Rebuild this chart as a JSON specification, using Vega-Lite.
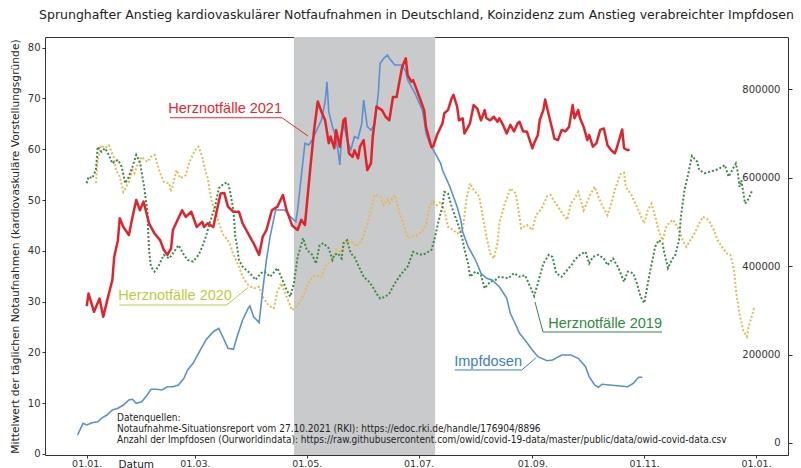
{
  "$schema": "https://vega.github.io/schema/vega-lite/v6.json",
  "width": 743,
  "height": 418,
  "autosize": {"type": "none"},
  "padding": {"left": 45, "top": 37, "right": 13, "bottom": 13},
  "background": "white",
  "config": {"view": {"stroke": "#333333", "strokeWidth": 1}, "font": "DejaVu Sans"},
  "title": {"text": "Sprunghafter Anstieg kardiovaskulärer Notfaufnahmen in Deutschland, Koinzidenz zum Anstieg verabreichter Impfdosen", "font": "DejaVu Sans", "fontSize": 12.5, "fontWeight": "normal", "color": "#222222", "anchor": "middle", "offset": 16},
  "datasets": {
    "band": [{"start": "2021-04-24", "end": "2021-07-10"}],
    "red": [
      {"date":"2021-01-01","v":29.1},{"date":"2021-01-02","v":31.6},{"date":"2021-01-05","v":28.0},{"date":"2021-01-08","v":30.6},{"date":"2021-01-10","v":27.0},{"date":"2021-01-12","v":30.0},{"date":"2021-01-15","v":34.3},{"date":"2021-01-16","v":38.8},{"date":"2021-01-18","v":42.1},{"date":"2021-01-19","v":46.4},{"date":"2021-01-21","v":44.7},{"date":"2021-01-24","v":43.1},{"date":"2021-01-26","v":46.7},{"date":"2021-01-28","v":50.0},{"date":"2021-01-30","v":48.0},{"date":"2021-02-01","v":49.7},{"date":"2021-02-04","v":45.4},{"date":"2021-02-05","v":44.7},{"date":"2021-02-07","v":43.4},{"date":"2021-02-10","v":42.1},{"date":"2021-02-12","v":40.2},{"date":"2021-02-14","v":39.2},{"date":"2021-02-16","v":40.5},{"date":"2021-02-17","v":44.1},{"date":"2021-02-22","v":48.0},{"date":"2021-02-24","v":46.7},{"date":"2021-02-27","v":47.7},{"date":"2021-03-02","v":44.7},{"date":"2021-03-05","v":45.7},{"date":"2021-03-06","v":44.7},{"date":"2021-03-08","v":45.4},{"date":"2021-03-11","v":44.7},{"date":"2021-03-13","v":48.0},{"date":"2021-03-15","v":51.3},{"date":"2021-03-17","v":51.4},{"date":"2021-03-19","v":48.7},{"date":"2021-03-22","v":47.7},{"date":"2021-03-25","v":47.7},{"date":"2021-03-27","v":45.4},{"date":"2021-03-29","v":44.1},{"date":"2021-04-01","v":42.1},{"date":"2021-04-02","v":41.5},{"date":"2021-04-05","v":39.2},{"date":"2021-04-07","v":42.8},{"date":"2021-04-09","v":44.1},{"date":"2021-04-12","v":48.0},{"date":"2021-04-15","v":48.7},{"date":"2021-04-18","v":51.0},{"date":"2021-04-20","v":48.0},{"date":"2021-04-23","v":45.0},{"date":"2021-04-26","v":44.1},{"date":"2021-04-28","v":46.1},{"date":"2021-04-30","v":45.1},{"date":"2021-05-03","v":56.6},{"date":"2021-05-05","v":63.8},{"date":"2021-05-07","v":69.4},{"date":"2021-05-09","v":67.4},{"date":"2021-05-11","v":65.7},{"date":"2021-05-13","v":61.2},{"date":"2021-05-14","v":62.5},{"date":"2021-05-16","v":60.2},{"date":"2021-05-17","v":63.8},{"date":"2021-05-19","v":60.5},{"date":"2021-05-21","v":65.7},{"date":"2021-05-22","v":66.1},{"date":"2021-05-24","v":59.2},{"date":"2021-05-26","v":58.5},{"date":"2021-05-27","v":59.8},{"date":"2021-05-29","v":58.2},{"date":"2021-05-30","v":60.5},{"date":"2021-06-01","v":61.8},{"date":"2021-06-03","v":55.9},{"date":"2021-06-05","v":57.2},{"date":"2021-06-06","v":62.5},{"date":"2021-06-08","v":68.4},{"date":"2021-06-11","v":67.7},{"date":"2021-06-13","v":66.4},{"date":"2021-06-15","v":65.7},{"date":"2021-06-17","v":70.3},{"date":"2021-06-19","v":70.3},{"date":"2021-06-20","v":72.3},{"date":"2021-06-22","v":76.2},{"date":"2021-06-24","v":77.9},{"date":"2021-06-25","v":74.6},{"date":"2021-06-27","v":73.3},{"date":"2021-06-28","v":73.6},{"date":"2021-06-30","v":71.7},{"date":"2021-07-02","v":69.7},{"date":"2021-07-04","v":67.7},{"date":"2021-07-05","v":64.4},{"date":"2021-07-08","v":60.4},{"date":"2021-07-09","v":60.6},{"date":"2021-07-11","v":62.8},{"date":"2021-07-14","v":65.1},{"date":"2021-07-15","v":67.1},{"date":"2021-07-17","v":67.7},{"date":"2021-07-19","v":70.0},{"date":"2021-07-20","v":70.7},{"date":"2021-07-22","v":68.4},{"date":"2021-07-23","v":65.7},{"date":"2021-07-25","v":66.1},{"date":"2021-07-26","v":63.1},{"date":"2021-07-29","v":65.1},{"date":"2021-07-31","v":68.7},{"date":"2021-08-02","v":68.0},{"date":"2021-08-04","v":65.7},{"date":"2021-08-06","v":67.7},{"date":"2021-08-07","v":66.1},{"date":"2021-08-09","v":65.7},{"date":"2021-08-11","v":66.4},{"date":"2021-08-13","v":65.4},{"date":"2021-08-14","v":66.1},{"date":"2021-08-16","v":64.8},{"date":"2021-08-18","v":63.1},{"date":"2021-08-20","v":64.8},{"date":"2021-08-22","v":63.5},{"date":"2021-08-24","v":65.1},{"date":"2021-08-25","v":65.4},{"date":"2021-08-27","v":63.5},{"date":"2021-08-29","v":63.5},{"date":"2021-09-01","v":60.2},{"date":"2021-09-02","v":61.2},{"date":"2021-09-04","v":62.8},{"date":"2021-09-05","v":65.7},{"date":"2021-09-07","v":67.7},{"date":"2021-09-08","v":69.8},{"date":"2021-09-10","v":66.7},{"date":"2021-09-12","v":63.8},{"date":"2021-09-13","v":62.1},{"date":"2021-09-15","v":61.8},{"date":"2021-09-17","v":63.8},{"date":"2021-09-19","v":63.5},{"date":"2021-09-21","v":64.4},{"date":"2021-09-23","v":68.7},{"date":"2021-09-24","v":66.1},{"date":"2021-09-26","v":67.7},{"date":"2021-09-27","v":66.1},{"date":"2021-09-29","v":64.4},{"date":"2021-10-01","v":61.8},{"date":"2021-10-02","v":62.8},{"date":"2021-10-04","v":60.5},{"date":"2021-10-06","v":61.2},{"date":"2021-10-08","v":63.8},{"date":"2021-10-10","v":64.1},{"date":"2021-10-12","v":60.8},{"date":"2021-10-14","v":59.8},{"date":"2021-10-16","v":59.2},{"date":"2021-10-17","v":60.2},{"date":"2021-10-20","v":63.9},{"date":"2021-10-21","v":60.2},{"date":"2021-10-23","v":59.8},{"date":"2021-10-24","v":60.0}
    ],
    "blue": [
      {"date":"2020-12-27","doses":18000},{"date":"2020-12-30","doses":44500},{"date":"2021-01-01","doses":40700},{"date":"2021-01-04","doses":45900},{"date":"2021-01-07","doses":48100},{"date":"2021-01-09","doses":55800},{"date":"2021-01-12","doses":63300},{"date":"2021-01-15","doses":74600},{"date":"2021-01-18","doses":78400},{"date":"2021-01-21","doses":85900},{"date":"2021-01-24","doses":97200},{"date":"2021-01-26","doses":98800},{"date":"2021-01-28","doses":89700},{"date":"2021-01-31","doses":93300},{"date":"2021-02-03","doses":108500},{"date":"2021-02-05","doses":121400},{"date":"2021-02-08","doses":121400},{"date":"2021-02-11","doses":119800},{"date":"2021-02-14","doses":127200},{"date":"2021-02-17","doses":127200},{"date":"2021-02-20","doses":131100},{"date":"2021-02-23","doses":146200},{"date":"2021-02-25","doses":165000},{"date":"2021-02-28","doses":180100},{"date":"2021-03-04","doses":210200},{"date":"2021-03-07","doses":232800},{"date":"2021-03-11","doses":251500},{"date":"2021-03-14","doses":259200},{"date":"2021-03-17","doses":232800},{"date":"2021-03-19","doses":214000},{"date":"2021-03-22","doses":211800},{"date":"2021-03-24","doses":240200},{"date":"2021-03-27","doses":278000},{"date":"2021-03-30","doses":304400},{"date":"2021-03-31","doses":309600},{"date":"2021-04-02","doses":285400},{"date":"2021-04-05","doses":272000},{"date":"2021-04-07","doses":345800},{"date":"2021-04-09","doses":413600},{"date":"2021-04-11","doses":466200},{"date":"2021-04-14","doses":526600},{"date":"2021-04-16","doses":526600},{"date":"2021-04-19","doses":526600},{"date":"2021-04-22","doses":511400},{"date":"2021-04-25","doses":500100},{"date":"2021-04-26","doses":526600},{"date":"2021-04-28","doses":601800},{"date":"2021-04-29","doses":639600},{"date":"2021-04-30","doses":677300},{"date":"2021-05-02","doses":673500},{"date":"2021-05-04","doses":684800},{"date":"2021-05-06","doses":703500},{"date":"2021-05-09","doses":730000},{"date":"2021-05-11","doses":771300},{"date":"2021-05-12","doses":816500},{"date":"2021-05-13","doses":748700},{"date":"2021-05-15","doses":714800},{"date":"2021-05-16","doses":703500},{"date":"2021-05-18","doses":662200},{"date":"2021-05-19","doses":628300},{"date":"2021-05-20","doses":692200},{"date":"2021-05-21","doses":722500},{"date":"2021-05-23","doses":684800},{"date":"2021-05-25","doses":662200},{"date":"2021-05-26","doses":677300},{"date":"2021-05-27","doses":692200},{"date":"2021-05-29","doses":688600},{"date":"2021-05-31","doses":722500},{"date":"2021-06-01","doses":775200},{"date":"2021-06-03","doses":714800},{"date":"2021-06-05","doses":707400},{"date":"2021-06-07","doses":718700},{"date":"2021-06-09","doses":790300},{"date":"2021-06-10","doses":858100},{"date":"2021-06-12","doses":869400},{"date":"2021-06-14","doses":876900},{"date":"2021-06-15","doses":869400},{"date":"2021-06-18","doses":854300},{"date":"2021-06-21","doses":854300},{"date":"2021-06-22","doses":854300},{"date":"2021-06-24","doses":839100},{"date":"2021-06-25","doses":820400},{"date":"2021-06-27","doses":805200},{"date":"2021-06-29","doses":790300},{"date":"2021-07-01","doses":771300},{"date":"2021-07-03","doses":752600},{"date":"2021-07-04","doses":730000},{"date":"2021-07-05","doses":699900},{"date":"2021-07-07","doses":677300},{"date":"2021-07-09","doses":662200},{"date":"2021-07-11","doses":647000},{"date":"2021-07-13","doses":632100},{"date":"2021-07-14","doses":617000},{"date":"2021-07-16","doses":598200},{"date":"2021-07-18","doses":579200},{"date":"2021-07-20","doses":556600},{"date":"2021-07-22","doses":534000},{"date":"2021-07-24","doses":504000},{"date":"2021-07-25","doses":477500},{"date":"2021-07-28","doses":443600},{"date":"2021-08-01","doses":413600},{"date":"2021-08-04","doses":383500},{"date":"2021-08-07","doses":372200},{"date":"2021-08-10","doses":368400},{"date":"2021-08-14","doses":353200},{"date":"2021-08-18","doses":327700},{"date":"2021-08-20","doses":293100},{"date":"2021-08-23","doses":266700},{"date":"2021-08-25","doses":247900},{"date":"2021-08-28","doses":232800},{"date":"2021-09-01","doses":210200},{"date":"2021-09-04","doses":195000},{"date":"2021-09-09","doses":186000},{"date":"2021-09-12","doses":187600},{"date":"2021-09-17","doses":198900},{"date":"2021-09-22","doses":198900},{"date":"2021-09-26","doses":191400},{"date":"2021-09-30","doses":172400},{"date":"2021-10-02","doses":149800},{"date":"2021-10-05","doses":131100},{"date":"2021-10-07","doses":125900},{"date":"2021-10-09","doses":132700},{"date":"2021-10-13","doses":131100},{"date":"2021-10-19","doses":128800},{"date":"2021-10-23","doses":127200},{"date":"2021-10-26","doses":134900},{"date":"2021-10-29","doses":148500},{"date":"2021-10-31","doses":148500}
    ],
    "green": [
      {"date":"2021-01-01","v":53.3},{"date":"2021-01-02","v":54.6},{"date":"2021-01-04","v":54.3},{"date":"2021-01-06","v":55.9},{"date":"2021-01-07","v":60.5},{"date":"2021-01-09","v":59.5},{"date":"2021-01-11","v":60.2},{"date":"2021-01-13","v":58.9},{"date":"2021-01-15","v":57.2},{"date":"2021-01-16","v":57.5},{"date":"2021-01-18","v":57.9},{"date":"2021-01-20","v":56.6},{"date":"2021-01-22","v":53.3},{"date":"2021-01-24","v":54.6},{"date":"2021-01-26","v":56.6},{"date":"2021-01-28","v":58.9},{"date":"2021-01-30","v":57.5},{"date":"2021-02-01","v":53.3},{"date":"2021-02-03","v":48.0},{"date":"2021-02-04","v":40.2},{"date":"2021-02-05","v":36.9},{"date":"2021-02-07","v":35.9},{"date":"2021-02-09","v":36.9},{"date":"2021-02-12","v":39.2},{"date":"2021-02-15","v":38.5},{"date":"2021-02-17","v":39.5},{"date":"2021-02-20","v":41.1},{"date":"2021-02-23","v":39.2},{"date":"2021-02-25","v":38.2},{"date":"2021-02-28","v":37.9},{"date":"2021-03-03","v":39.2},{"date":"2021-03-05","v":40.8},{"date":"2021-03-07","v":42.8},{"date":"2021-03-09","v":45.4},{"date":"2021-03-12","v":48.7},{"date":"2021-03-14","v":52.3},{"date":"2021-03-17","v":53.3},{"date":"2021-03-19","v":53.4},{"date":"2021-03-20","v":52.0},{"date":"2021-03-22","v":48.0},{"date":"2021-03-23","v":42.8},{"date":"2021-03-24","v":40.8},{"date":"2021-03-25","v":38.2},{"date":"2021-03-27","v":36.9},{"date":"2021-03-29","v":36.2},{"date":"2021-03-31","v":35.6},{"date":"2021-04-03","v":34.3},{"date":"2021-04-06","v":35.6},{"date":"2021-04-08","v":35.9},{"date":"2021-04-11","v":34.9},{"date":"2021-04-15","v":36.6},{"date":"2021-04-17","v":34.9},{"date":"2021-04-20","v":32.3},{"date":"2021-04-22","v":31.0},{"date":"2021-04-24","v":33.6},{"date":"2021-04-26","v":38.8},{"date":"2021-04-29","v":42.5},{"date":"2021-05-01","v":40.2},{"date":"2021-05-04","v":39.2},{"date":"2021-05-06","v":37.5},{"date":"2021-05-08","v":41.1},{"date":"2021-05-10","v":41.5},{"date":"2021-05-13","v":40.5},{"date":"2021-05-15","v":38.2},{"date":"2021-05-16","v":39.2},{"date":"2021-05-18","v":39.5},{"date":"2021-05-20","v":38.5},{"date":"2021-05-21","v":41.5},{"date":"2021-05-23","v":42.1},{"date":"2021-05-25","v":39.5},{"date":"2021-05-27","v":38.8},{"date":"2021-05-29","v":37.2},{"date":"2021-06-01","v":34.9},{"date":"2021-06-04","v":33.9},{"date":"2021-06-06","v":32.9},{"date":"2021-06-08","v":31.6},{"date":"2021-06-10","v":30.6},{"date":"2021-06-13","v":31.0},{"date":"2021-06-15","v":31.6},{"date":"2021-06-18","v":33.6},{"date":"2021-06-21","v":35.2},{"date":"2021-06-25","v":36.9},{"date":"2021-06-28","v":39.8},{"date":"2021-06-30","v":39.5},{"date":"2021-07-03","v":39.2},{"date":"2021-07-05","v":39.5},{"date":"2021-07-08","v":40.2},{"date":"2021-07-10","v":42.8},{"date":"2021-07-12","v":46.1},{"date":"2021-07-14","v":48.7},{"date":"2021-07-15","v":51.6},{"date":"2021-07-17","v":51.3},{"date":"2021-07-19","v":48.7},{"date":"2021-07-21","v":46.7},{"date":"2021-07-23","v":44.7},{"date":"2021-07-25","v":42.1},{"date":"2021-07-26","v":40.2},{"date":"2021-07-28","v":37.5},{"date":"2021-07-29","v":34.9},{"date":"2021-08-01","v":35.9},{"date":"2021-08-04","v":35.2},{"date":"2021-08-06","v":32.6},{"date":"2021-08-09","v":33.9},{"date":"2021-08-12","v":34.3},{"date":"2021-08-14","v":34.9},{"date":"2021-08-19","v":34.6},{"date":"2021-08-22","v":35.6},{"date":"2021-08-25","v":34.9},{"date":"2021-08-28","v":35.2},{"date":"2021-08-30","v":33.6},{"date":"2021-09-02","v":31.1},{"date":"2021-09-04","v":33.6},{"date":"2021-09-07","v":37.5},{"date":"2021-09-10","v":39.2},{"date":"2021-09-12","v":38.8},{"date":"2021-09-14","v":35.6},{"date":"2021-09-17","v":34.9},{"date":"2021-09-20","v":36.2},{"date":"2021-09-23","v":37.5},{"date":"2021-09-24","v":38.2},{"date":"2021-09-27","v":39.2},{"date":"2021-09-30","v":39.8},{"date":"2021-10-02","v":37.5},{"date":"2021-10-04","v":38.8},{"date":"2021-10-07","v":39.2},{"date":"2021-10-10","v":38.5},{"date":"2021-10-12","v":37.2},{"date":"2021-10-15","v":38.5},{"date":"2021-10-18","v":36.6},{"date":"2021-10-21","v":33.9},{"date":"2021-10-23","v":35.9},{"date":"2021-10-26","v":35.6},{"date":"2021-10-28","v":33.6},{"date":"2021-10-30","v":31.0},{"date":"2021-11-01","v":29.7},{"date":"2021-11-02","v":31.6},{"date":"2021-11-04","v":35.6},{"date":"2021-11-07","v":40.8},{"date":"2021-11-09","v":42.1},{"date":"2021-11-11","v":41.5},{"date":"2021-11-12","v":39.5},{"date":"2021-11-14","v":36.6},{"date":"2021-11-16","v":38.2},{"date":"2021-11-18","v":39.2},{"date":"2021-11-20","v":42.1},{"date":"2021-11-21","v":46.7},{"date":"2021-11-23","v":52.0},{"date":"2021-11-25","v":55.1},{"date":"2021-11-27","v":58.7},{"date":"2021-11-30","v":57.5},{"date":"2021-12-01","v":55.9},{"date":"2021-12-04","v":55.3},{"date":"2021-12-07","v":55.6},{"date":"2021-12-10","v":55.9},{"date":"2021-12-12","v":56.2},{"date":"2021-12-15","v":56.9},{"date":"2021-12-17","v":54.6},{"date":"2021-12-19","v":55.9},{"date":"2021-12-21","v":57.2},{"date":"2021-12-22","v":55.6},{"date":"2021-12-23","v":52.6},{"date":"2021-12-24","v":53.9},{"date":"2021-12-26","v":49.3},{"date":"2021-12-28","v":50.3},{"date":"2021-12-30","v":52.0}
    ],
    "yellow": [
      {"date":"2021-01-06","v":53.3},{"date":"2021-01-07","v":57.9},{"date":"2021-01-09","v":60.8},{"date":"2021-01-11","v":60.2},{"date":"2021-01-13","v":60.8},{"date":"2021-01-16","v":58.2},{"date":"2021-01-17","v":55.9},{"date":"2021-01-19","v":54.6},{"date":"2021-01-21","v":51.6},{"date":"2021-01-24","v":53.6},{"date":"2021-01-26","v":55.9},{"date":"2021-01-27","v":55.3},{"date":"2021-01-29","v":57.2},{"date":"2021-01-31","v":58.5},{"date":"2021-02-03","v":57.5},{"date":"2021-02-05","v":58.5},{"date":"2021-02-07","v":58.9},{"date":"2021-02-10","v":55.3},{"date":"2021-02-12","v":53.6},{"date":"2021-02-15","v":53.3},{"date":"2021-02-16","v":51.6},{"date":"2021-02-19","v":55.9},{"date":"2021-02-21","v":54.3},{"date":"2021-02-24","v":54.9},{"date":"2021-02-26","v":57.5},{"date":"2021-03-01","v":59.8},{"date":"2021-03-03","v":60.5},{"date":"2021-03-05","v":58.5},{"date":"2021-03-07","v":55.3},{"date":"2021-03-08","v":54.3},{"date":"2021-03-10","v":50.0},{"date":"2021-03-13","v":46.7},{"date":"2021-03-16","v":43.4},{"date":"2021-03-20","v":41.5},{"date":"2021-03-22","v":39.2},{"date":"2021-03-25","v":36.9},{"date":"2021-03-27","v":34.9},{"date":"2021-03-30","v":33.3},{"date":"2021-04-02","v":32.6},{"date":"2021-04-05","v":32.9},{"date":"2021-04-07","v":31.0},{"date":"2021-04-10","v":29.3},{"date":"2021-04-13","v":28.7},{"date":"2021-04-15","v":32.0},{"date":"2021-04-17","v":33.6},{"date":"2021-04-20","v":31.0},{"date":"2021-04-23","v":28.3},{"date":"2021-04-26","v":29.3},{"date":"2021-04-28","v":30.3},{"date":"2021-05-01","v":32.9},{"date":"2021-05-04","v":34.9},{"date":"2021-05-06","v":35.2},{"date":"2021-05-09","v":34.9},{"date":"2021-05-12","v":37.5},{"date":"2021-05-15","v":38.2},{"date":"2021-05-17","v":40.2},{"date":"2021-05-20","v":39.8},{"date":"2021-05-23","v":42.1},{"date":"2021-05-26","v":41.7},{"date":"2021-05-28","v":40.8},{"date":"2021-05-31","v":42.1},{"date":"2021-06-02","v":44.1},{"date":"2021-06-05","v":48.0},{"date":"2021-06-07","v":51.0},{"date":"2021-06-10","v":50.7},{"date":"2021-06-12","v":49.0},{"date":"2021-06-14","v":50.0},{"date":"2021-06-15","v":49.3},{"date":"2021-06-18","v":51.0},{"date":"2021-06-19","v":49.7},{"date":"2021-06-21","v":47.0},{"date":"2021-06-23","v":45.1},{"date":"2021-06-25","v":42.5},{"date":"2021-06-27","v":42.8},{"date":"2021-06-30","v":43.1},{"date":"2021-07-03","v":43.8},{"date":"2021-07-05","v":45.1},{"date":"2021-07-07","v":48.7},{"date":"2021-07-09","v":49.7},{"date":"2021-07-11","v":49.0},{"date":"2021-07-13","v":49.7},{"date":"2021-07-15","v":48.0},{"date":"2021-07-17","v":44.7},{"date":"2021-07-20","v":44.1},{"date":"2021-07-22","v":43.4},{"date":"2021-07-25","v":44.1},{"date":"2021-07-27","v":50.0},{"date":"2021-07-29","v":53.3},{"date":"2021-07-31","v":52.0},{"date":"2021-08-03","v":50.7},{"date":"2021-08-05","v":46.7},{"date":"2021-08-07","v":42.8},{"date":"2021-08-09","v":39.5},{"date":"2021-08-11","v":38.5},{"date":"2021-08-13","v":41.5},{"date":"2021-08-14","v":45.4},{"date":"2021-08-17","v":49.3},{"date":"2021-08-20","v":52.3},{"date":"2021-08-23","v":51.3},{"date":"2021-08-24","v":49.0},{"date":"2021-08-26","v":44.4},{"date":"2021-08-29","v":45.1},{"date":"2021-09-01","v":44.1},{"date":"2021-09-03","v":47.0},{"date":"2021-09-06","v":48.3},{"date":"2021-09-09","v":50.7},{"date":"2021-09-11","v":51.0},{"date":"2021-09-12","v":50.3},{"date":"2021-09-15","v":48.7},{"date":"2021-09-18","v":47.0},{"date":"2021-09-20","v":46.1},{"date":"2021-09-22","v":49.3},{"date":"2021-09-24","v":50.3},{"date":"2021-09-26","v":51.6},{"date":"2021-09-29","v":48.0},{"date":"2021-10-01","v":49.7},{"date":"2021-10-02","v":50.7},{"date":"2021-10-05","v":52.6},{"date":"2021-10-07","v":50.7},{"date":"2021-10-09","v":49.0},{"date":"2021-10-12","v":47.0},{"date":"2021-10-14","v":49.3},{"date":"2021-10-16","v":52.0},{"date":"2021-10-19","v":55.1},{"date":"2021-10-21","v":55.4},{"date":"2021-10-22","v":52.6},{"date":"2021-10-25","v":51.0},{"date":"2021-10-28","v":48.7},{"date":"2021-10-30","v":47.0},{"date":"2021-11-01","v":45.4},{"date":"2021-11-03","v":48.0},{"date":"2021-11-05","v":49.3},{"date":"2021-11-07","v":46.7},{"date":"2021-11-09","v":43.8},{"date":"2021-11-11","v":42.1},{"date":"2021-11-13","v":44.7},{"date":"2021-11-15","v":45.7},{"date":"2021-11-17","v":46.1},{"date":"2021-11-20","v":44.1},{"date":"2021-11-22","v":42.1},{"date":"2021-11-24","v":40.8},{"date":"2021-11-26","v":42.0},{"date":"2021-11-28","v":43.1},{"date":"2021-12-01","v":45.4},{"date":"2021-12-03","v":46.7},{"date":"2021-12-06","v":46.1},{"date":"2021-12-09","v":44.1},{"date":"2021-12-11","v":42.1},{"date":"2021-12-14","v":40.5},{"date":"2021-12-16","v":39.5},{"date":"2021-12-18","v":39.2},{"date":"2021-12-20","v":36.2},{"date":"2021-12-21","v":32.3},{"date":"2021-12-23","v":27.5},{"date":"2021-12-25","v":24.3},{"date":"2021-12-27","v":23.1},{"date":"2021-12-28","v":25.1},{"date":"2021-12-30","v":27.5},{"date":"2021-12-31","v":28.9}
    ],
    "labels": [
      {"series":"Herznotfälle 2021","date":"2021-02-14T12:00:00Z","v":67.1},
      {"series":"Herznotfälle 2020","date":"2021-01-18T05:00:00Z","v":30.3},
      {"series":"Impfdosen","date":"2021-07-20T10:00:00Z","v":17.3},
      {"series":"Herznotfälle 2019","date":"2021-09-09T17:00:00Z","v":24.74}
    ],
    "leaders": [
      {"series":"Herznotfälle 2021","i":1,"date":"2021-02-15T10:00:00Z","v":66.2},
      {"series":"Herznotfälle 2021","i":2,"date":"2021-04-17T12:00:00Z","v":66.2},
      {"series":"Herznotfälle 2021","i":3,"date":"2021-05-01T16:00:00Z","v":62.6},
      {"series":"Herznotfälle 2020","i":1,"date":"2021-01-18T19:00:00Z","v":29.33},
      {"series":"Herznotfälle 2020","i":2,"date":"2021-03-18T08:00:00Z","v":29.33},
      {"series":"Herznotfälle 2020","i":3,"date":"2021-03-30T03:00:00Z","v":32.81},
      {"series":"Impfdosen","i":1,"date":"2021-07-20T17:00:00Z","v":16.54},
      {"series":"Impfdosen","i":2,"date":"2021-08-26T06:00:00Z","v":16.54},
      {"series":"Impfdosen","i":3,"date":"2021-09-02T21:00:00Z","v":18.9},
      {"series":"Herznotfälle 2019","i":1,"date":"2021-09-02T11:00:00Z","v":29.92},
      {"series":"Herznotfälle 2019","i":2,"date":"2021-09-06T19:00:00Z","v":24.02},
      {"series":"Herznotfälle 2019","i":3,"date":"2021-11-10T17:00:00Z","v":24.02}
    ],
    "sources": [
      {"text":"Datenquellen:","date":"2021-01-17T12:00:00Z","v":6.4},
      {"text":"Notaufnahme-Situationsreport vom 27.10.2021 (RKI): https://edoc.rki.de/handle/176904/8896","date":"2021-01-17T12:00:00Z","v":4.33},
      {"text":"Anzahl der Impfdosen (Ourworldindata): https://raw.githubusercontent.com/owid/covid-19-data/master/public/data/owid-covid-data.csv","date":"2021-01-17T12:00:00Z","v":2.26}
    ]
  },
  "layer": [
    {
      "layer": [
        {
          "data": {"name": "band"},
          "mark": {"type": "rect", "color": "#c9cacb"},
          "encoding": {
            "x": {"field": "start", "type": "temporal",
              "scale": {"type": "utc", "domain": [{"year": 2020, "month": 12, "date": 9, "hours": 6, "utc": true}, {"year": 2022, "month": 1, "date": 18, "hours": 10, "utc": true}]},
              "axis": {"values": [{"year":2021,"month":1,"date":1,"utc":true},{"year":2021,"month":3,"date":1,"utc":true},{"year":2021,"month":5,"date":1,"utc":true},{"year":2021,"month":7,"date":1,"utc":true},{"year":2021,"month":9,"date":1,"utc":true},{"year":2021,"month":11,"date":1,"utc":true},{"year":2022,"month":1,"date":1,"utc":true}],
                "format": "%d.%m.", "grid": false, "domain": false, "tickSize": 3, "tickColor": "#333333", "labelPadding": 0, "labelFont": "DejaVu Sans", "labelFontSize": 9.5, "labelColor": "#333333",
                "title": "Datum", "titleFont": "DejaVu Sans", "titleFontSize": 10.5, "titleFontWeight": "normal", "titleColor": "#222222", "titleX": 73, "titleY": 12, "titleAlign": "left", "titleBaseline": "alphabetic", "titleAngle": 0}},
            "x2": {"field": "end"}
          }
        },
        {
          "data": {"name": "yellow"},
          "mark": {"type": "line", "color": "#e6b955", "strokeWidth": 2, "strokeDash": [2, 2]},
          "encoding": {
            "x": {"field": "date", "type": "temporal"},
            "y": {"field": "v", "type": "quantitative", "scale": {"domain": [-0.2, 82.1], "nice": false, "zero": false},
              "axis": {"values": [0,10,20,30,40,50,60,70,80], "grid": false, "domain": false, "tickSize": 3, "tickColor": "#333333", "labelPadding": 2, "labelFont": "DejaVu Sans", "labelFontSize": 10, "labelColor": "#333333",
                "title": "Mittelwert der täglichen Notaufnahmen (kardiovaskuläre Vorstellungsgründe)", "titleFont": "DejaVu Sans", "titleFontSize": 10.7, "titleFontWeight": "normal", "titleColor": "#222222", "titlePadding": 7}}
          }
        },
        {
          "data": {"name": "green"},
          "mark": {"type": "line", "color": "#3c8a46", "strokeWidth": 2, "strokeDash": [2, 2]},
          "encoding": {
            "x": {"field": "date", "type": "temporal"},
            "y": {"field": "v", "type": "quantitative"}
          }
        },
        {
          "data": {"name": "leaders"},
          "mark": {"type": "line", "strokeWidth": 1},
          "encoding": {
            "x": {"field": "date", "type": "temporal"},
            "y": {"field": "v", "type": "quantitative"},
            "order": {"field": "i", "type": "quantitative"},
            "color": {"field": "series", "type": "nominal", "legend": null,
              "scale": {"domain": ["Herznotfälle 2021", "Herznotfälle 2020", "Impfdosen", "Herznotfälle 2019"], "range": ["#e8262c", "#bccd3e", "#3b7dc9", "#2e8b3e"]}}
          }
        },
        {
          "data": {"name": "labels"},
          "mark": {"type": "text", "align": "left", "baseline": "alphabetic", "font": "Liberation Sans", "fontSize": 14.5},
          "encoding": {
            "x": {"field": "date", "type": "temporal"},
            "y": {"field": "v", "type": "quantitative"},
            "text": {"field": "series"},
            "color": {"field": "series", "type": "nominal", "legend": null}
          }
        },
        {
          "data": {"name": "sources"},
          "mark": {"type": "text", "align": "left", "baseline": "alphabetic", "font": "DejaVu Sans Condensed, Liberation Sans Narrow, DejaVu Sans", "fontSize": 10, "color": "#222222"},
          "encoding": {
            "x": {"field": "date", "type": "temporal"},
            "y": {"field": "v", "type": "quantitative"},
            "text": {"field": "text"}
          }
        }
      ]
    },
    {
      "data": {"name": "blue"},
      "mark": {"type": "line", "color": "#5b8fd6", "strokeWidth": 1.6},
      "encoding": {
        "x": {"field": "date", "type": "temporal"},
        "y": {"field": "doses", "type": "quantitative", "scale": {"domain": [-27119, 917520], "nice": false, "zero": false},
          "axis": {"orient": "right", "values": [0, 200000, 400000, 600000, 800000], "format": "d", "grid": false, "domain": false, "tickSize": 4, "tickColor": "#333333", "labelAlign": "right", "labelPadding": -12, "labelFont": "DejaVu Sans", "labelFontSize": 10, "labelColor": "#333333", "title": null}}
      }
    },
    {
      "data": {"name": "red"},
      "mark": {"type": "line", "color": "#e3232b", "strokeWidth": 2.5, "strokeJoin": "round"},
      "encoding": {
        "x": {"field": "date", "type": "temporal"},
        "y": {"field": "v", "type": "quantitative", "scale": {"domain": [-0.2, 82.1], "nice": false, "zero": false}, "axis": null}
      }
    }
  ],
  "resolve": {"scale": {"y": "independent"}}
}
